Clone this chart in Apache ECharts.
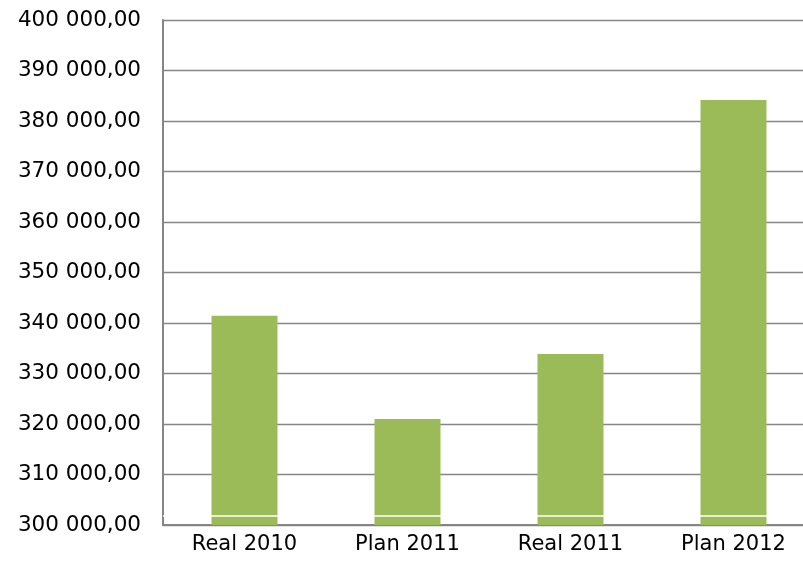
<!DOCTYPE html>
<html><head><meta charset="utf-8">
<script src="https://cdn.jsdelivr.net/npm/echarts@6/dist/echarts.min.js"></script>
<style>html,body{margin:0;padding:0;background:#fff;overflow:hidden;width:803px;height:579px}#c{width:815px;height:579px}</style>
</head><body><div id="c"></div>
<script>
const categories = ['Real 2010', 'Plan 2011', 'Real 2011', 'Plan 2012'];
const values = [341450, 321000, 333850, 384150];
const yMin = 300000, yMax = 400000, yStep = 10000;
const breakValue = 301800;

function fmt(v) {
  const s = Math.round(v).toString().replace(/\B(?=(\d{3})+(?!\d))/g, ' ');
  return s + ',00';
}

const chart = echarts.init(document.getElementById('c'), null, {renderer: 'canvas'});
chart.setOption({
  animation: false,
  grid: {left: 163, right: 0, top: 20, bottom: 54, containLabel: false},
  xAxis: {
    type: 'category', data: categories,
    axisLine: {show: true, lineStyle: {color: '#868686', width: 2}},
    axisTick: {show: false},
    axisLabel: {color: '#000', fontFamily: 'DejaVu Sans', fontSize: 21, margin: 9}
  },
  yAxis: {
    type: 'value', min: yMin, max: yMax, interval: yStep,
    axisLine: {show: true, lineStyle: {color: '#868686', width: 2}},
    axisTick: {show: false},
    splitLine: {show: true, lineStyle: {color: '#868686', width: 1.3}},
    axisLabel: {color: '#000', fontFamily: 'DejaVu Sans', fontSize: 21.5, margin: 22, formatter: fmt}
  },
  series: [{
    type: 'bar', data: values, barWidth: '40.5%',
    itemStyle: {color: '#9BBB59'},
    markLine: {
      silent: true, symbol: 'none', label: {show: false},
      lineStyle: {color: '#ffffff', width: 1.5, type: 'solid'},
      data: [{yAxis: breakValue}]
    }
  }]
});
</script></body></html>
